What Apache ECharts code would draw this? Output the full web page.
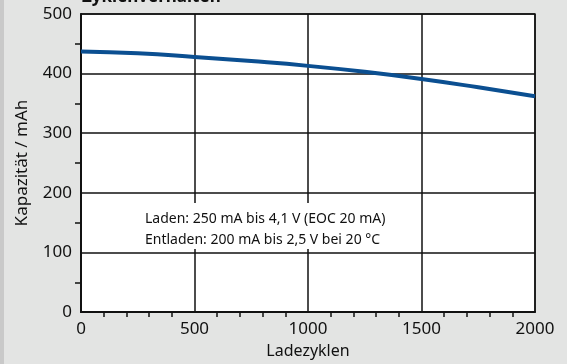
<!DOCTYPE html>
<html>
<head>
<meta charset="utf-8">
<script src="https://cdn.jsdelivr.net/npm/echarts@6/dist/echarts.min.js"></script>
<style>html,body{margin:0;padding:0;background:#e3e4e3;}#c{width:567px;height:364px;}</style>
</head>
<body>
<div id="c"></div>
<script>
const cycles = [0, 250, 500, 750, 1000, 1250, 1500, 1750, 2000];
const capacity = [437, 434, 428, 421, 413, 403, 391, 377, 362];
const xTicks = [0, 500, 1000, 1500, 2000];
const yTicks = [0, 100, 200, 300, 400, 500];
const title = 'Zyklenverhalten';
const note = ['Laden: 250 mA bis 4,1 V (EOC 20 mA)', 'Entladen: 200 mA bis 2,5 V bei 20 °C'];
const F = '"Noto Sans", sans-serif';

const chart = echarts.init(document.getElementById('c'));
chart.setOption({
  backgroundColor: '#e3e4e3',
  animation: false,
  grid: {left: 81, right: 32, top: 14, bottom: 49, show: true, backgroundColor: '#fff', borderColor: '#222', borderWidth: 1.5},
  xAxis: {
    type: 'value', min: xTicks[0], max: xTicks[xTicks.length-1], interval: 500,
    name: 'Ladezyklen', nameLocation: 'middle', nameGap: 30,
    nameTextStyle: {fontFamily: F, fontSize: 16, color: '#111'},
    axisLine: {show: true, lineStyle: {color: '#111', width: 2}},
    axisTick: {show: false},
    minorTick: {show: true, splitNumber: 5, length: 5, lineStyle: {color: '#111', width: 1.5}},
    axisLabel: {fontFamily: F, fontSize: 17, color: '#111', margin: 9, formatter: v => String(v)},
    splitLine: {show: true, lineStyle: {color: '#111', width: 1.5}}
  },
  yAxis: {
    type: 'value', min: yTicks[0], max: yTicks[yTicks.length-1], interval: 100,
    name: 'Kapazität / mAh', nameLocation: 'middle', nameGap: 50,
    nameTextStyle: {fontFamily: F, fontSize: 17, color: '#111'},
    axisLine: {show: true, lineStyle: {color: '#111', width: 2}},
    axisTick: {show: false},
    minorTick: {show: true, splitNumber: 2, length: 6, lineStyle: {color: '#111', width: 1.5}},
    axisLabel: {fontFamily: F, fontSize: 17, color: '#111', margin: 9, formatter: v => String(v)},
    splitLine: {show: true, lineStyle: {color: '#111', width: 1.5}}
  },
  graphic: [
    {type: 'rect', left: 0, top: 0, shape: {width: 4, height: 364}, style: {fill: '#c9c9c9'}},
    {type: 'text', left: 82, top: -11, style: {text: title, font: 'bold 17px ' + F, fill: '#111'}},
    {type: 'rect', left: 100, top: 203, z: 99, shape: {width: 312, height: 46}, style: {fill: '#fff'}},
    {type: 'text', left: 145, top: 209, z: 100, style: {text: note.join('\n'), font: '14px ' + F, lineHeight: 21, fill: '#111'}}
  ],
  series: [{
    type: 'line', data: cycles.map((c, i) => [c, capacity[i]]),
    smooth: true, showSymbol: false,
    lineStyle: {color: '#0b4f91', width: 4}
  }]
});
</script>
</body>
</html>
